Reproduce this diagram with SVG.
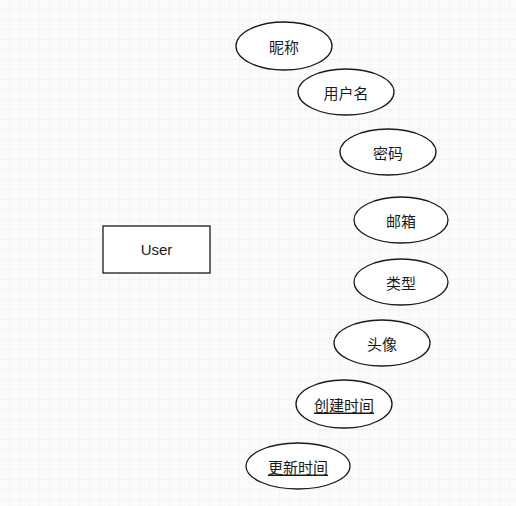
<svg xmlns="http://www.w3.org/2000/svg" width="516" height="506" viewBox="0 0 516 506">
<defs>
<pattern id="grid" width="10" height="10" patternUnits="userSpaceOnUse">
<path d="M10 0V10M0 10H10" fill="none" stroke="#efefef" stroke-width="1"/>
</pattern>
<style>
.shape{fill:#fff;stroke:#1a1a1a;stroke-width:1.3}
.lbl{font-family:"Noto Sans CJK SC","Liberation Sans",sans-serif;font-size:15px;fill:#1a1a1a;text-anchor:middle;dominant-baseline:central}
.u{text-decoration:underline}
</style>
</defs>
<rect width="516" height="506" fill="#fbfbfb"/>
<rect width="516" height="506" fill="url(#grid)"/>
<g id="connectors"></g>
<g id="user"><rect class="shape" x="103" y="226" width="107" height="47"/><text class="lbl" x="156.5" y="249" style="font-family:'Liberation Sans',sans-serif">User</text></g>
<g id="nickname"><ellipse class="shape" cx="284" cy="46" rx="48" ry="24"/><text class="lbl" x="284" y="46">昵称</text></g>
<g id="username"><ellipse class="shape" cx="346" cy="92" rx="48" ry="23"/><text class="lbl" x="346" y="92">用户名</text></g>
<g id="password"><ellipse class="shape" cx="388" cy="152" rx="48" ry="23"/><text class="lbl" x="388" y="152">密码</text></g>
<g id="email"><ellipse class="shape" cx="401" cy="220" rx="47" ry="23"/><text class="lbl" x="401" y="220">邮箱</text></g>
<g id="type"><ellipse class="shape" cx="401" cy="282" rx="47" ry="23"/><text class="lbl" x="401" y="282">类型</text></g>
<g id="avatar"><ellipse class="shape" cx="382" cy="343" rx="48" ry="23"/><text class="lbl" x="382" y="343">头像</text></g>
<g id="created"><ellipse class="shape" cx="344" cy="404" rx="48" ry="24"/><text class="lbl u" x="344" y="404">创建时间</text></g>
<g id="updated"><ellipse class="shape" cx="298" cy="466" rx="52" ry="23"/><text class="lbl u" x="298" y="466">更新时间</text></g>
</svg>
